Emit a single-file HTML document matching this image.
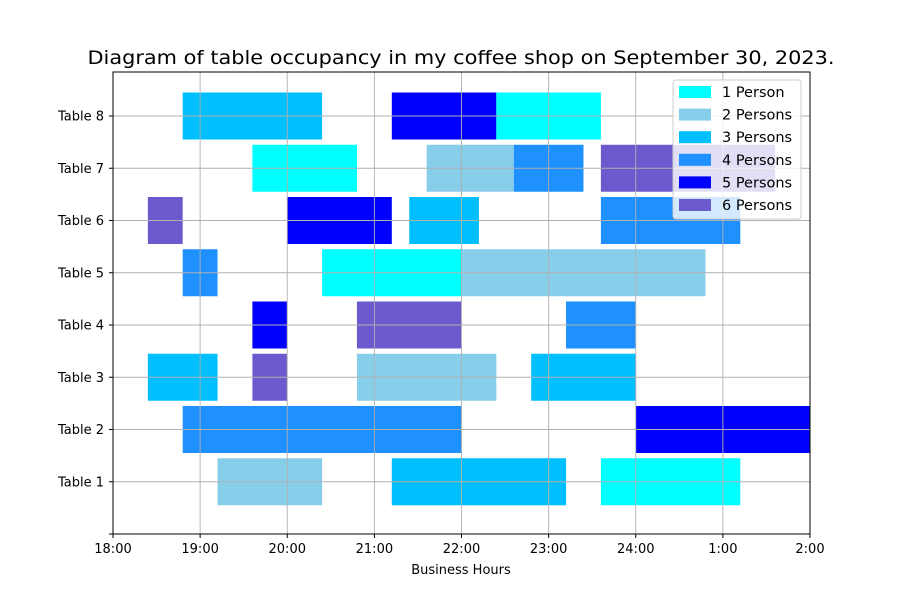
<!DOCTYPE html>
<html><head><meta charset="utf-8"><style>body{margin:0;background:#fff}svg{display:block;font-family:"DejaVu Sans","Liberation Sans",sans-serif}</style></head>
<body><svg id="s" width="900" height="600" xmlns="http://www.w3.org/2000/svg"></svg>
<script>
const C={1:"#00FFFF",2:"#87CEEB",3:"#00BFFF",4:"#1E90FF",5:"#0000FF",6:"#6A5ACD"};
const X=h=>113+h*87.125, Y=k=>534-k*52.25;
const bars={8:[[0.8,2.4,3],[3.2,4.4,5],[4.4,5.6,1]],7:[[1.6,2.8,1],[3.6,4.6,2],[4.6,5.4,4],[5.6,7.6,6]],
6:[[0.4,0.8,6],[2,3.2,5],[3.4,4.2,3],[5.6,7.2,4]],5:[[0.8,1.2,4],[2.4,4,1],[4,6.8,2]],
4:[[1.6,2,5],[2.8,4,6],[5.2,6,4]],3:[[0.4,1.2,3],[1.6,2,6],[2.8,4.4,2],[4.8,6,3]],
2:[[0.8,4,4],[6,8,5]],1:[[1.2,2.4,2],[3.2,5.2,3],[5.6,7.2,1]]};
let s='';
for(const k in bars)for(const [a,b,c] of bars[k])s+=`<rect x="${X(a)}" y="${Y(k)-23.5}" width="${X(b)-X(a)}" height="47" fill="${C[c]}"/>`;
for(let i=1;i<8;i++)s+=`<line x1="${X(i)}" x2="${X(i)}" y1="72" y2="534" stroke="#b0b0b0" stroke-width="0.9"/>`;
for(let k=1;k<=8;k++)s+=`<line x1="113" x2="810" y1="${Y(k)}" y2="${Y(k)}" stroke="#b0b0b0" stroke-width="0.9"/>`;
s+=`<rect x="113" y="72" width="697" height="462" fill="none" stroke="#000" stroke-width="1"/>`;
const lab=["18:00","19:00","20:00","21:00","22:00","23:00","24:00","1:00","2:00"];
for(let i=0;i<=8;i++)s+=`<line x1="${X(i)}" x2="${X(i)}" y1="534" y2="538" stroke="#000"/><text x="${X(i)}" y="553" font-size="13" text-anchor="middle">${lab[i]}</text>`;
for(let k=0;k<=8;k++){s+=`<line x1="109" x2="113" y1="${Y(k)}" y2="${Y(k)}" stroke="#000"/>`;if(k)s+=`<text x="104" y="${Y(k)+4.5}" font-size="13" text-anchor="end">Table ${k}</text>`;}
s+=`<text x="461" y="574" font-size="13" text-anchor="middle">Business Hours</text>`;
s+=`<text x="461" y="64" font-size="19" text-anchor="middle" textLength="747" lengthAdjust="spacingAndGlyphs">Diagram of table occupancy in my coffee shop on September 30, 2023.</text>`;
s+=`<rect x="673" y="80" width="128" height="139" rx="3" fill="#fff" fill-opacity="0.8" stroke="#ccc"/>`;
const L=["1 Person","2 Persons","3 Persons","4 Persons","5 Persons","6 Persons"];
L.forEach((t,i)=>{const y=92+i*22.6;s+=`<rect x="679" y="${y-6}" width="32" height="12" fill="${C[i+1]}"/><text x="722" y="${y+5}" font-size="14.5">${t}</text>`;});
document.getElementById('s').innerHTML=s;
</script></body></html>
